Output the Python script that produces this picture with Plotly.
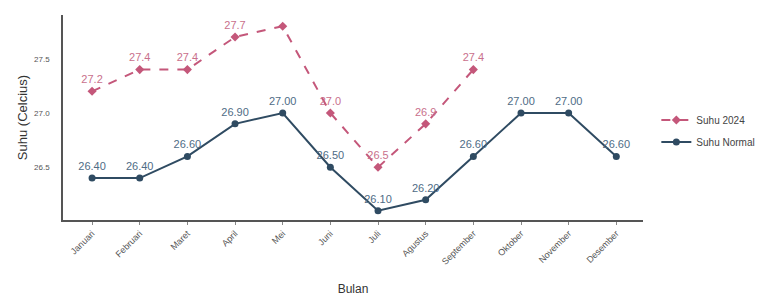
import plotly.graph_objects as go

bulan = ["Januari", "Februari", "Maret", "April", "Mei", "Juni", "Juli",
         "Agustus", "September", "Oktober", "November", "Desember"]
suhu_2024 = [27.2, 27.4, 27.4, 27.7, 27.8, 27.0, 26.5, 26.9, 27.4, None, None, None]
label_2024 = ["27.2", "27.4", "27.4", "27.7", "", "27.0", "26.5", "26.9", "27.4", "", "", ""]
suhu_normal = [26.40, 26.40, 26.60, 26.90, 27.00, 26.50, 26.10, 26.20, 26.60, 27.00, 27.00, 26.60]
label_normal = ["26.40", "26.40", "26.60", "26.90", "27.00", "26.50", "26.10", "26.20",
                "26.60", "27.00", "27.00", "26.60"]

c2024 = "#c4577a"
cnorm = "#2f4b62"
lab_font = "Liberation Sans Narrow, Liberation Sans, Arial"

fig = go.Figure()
fig.add_trace(go.Scatter(
    x=bulan, y=suhu_2024, name="Suhu 2024", mode="lines+markers+text",
    legendgroup="a",
    line=dict(color=c2024, width=2, dash="dash"),
    marker=dict(symbol="diamond", size=7, color=c2024),
    text=label_2024,
    textposition="top center",
    textfont=dict(size=11, color="#c9708c", family=lab_font),
    cliponaxis=True,
))
fig.add_trace(go.Scatter(
    x=bulan, y=suhu_normal, name="Suhu Normal", mode="lines+markers+text",
    legendgroup="b",
    line=dict(color=cnorm, width=2),
    marker=dict(symbol="circle", size=7, color=cnorm),
    text=label_normal,
    textposition="top center",
    textfont=dict(size=11, color="#4f6c86", family=lab_font),
    cliponaxis=True,
))

fig.update_layout(
    width=758, height=290,
    margin=dict(l=55, r=123, t=7, b=78, autoexpand=False),
    paper_bgcolor="white", plot_bgcolor="white",
    font=dict(family="Liberation Sans, Arial", color="#444"),
    showlegend=True,
    legend=dict(x=1.023, y=0.434, xanchor="left", yanchor="middle",
                font=dict(size=10, color="#444"), bgcolor="rgba(0,0,0,0)",
                tracegroupgap=3),
    xaxis=dict(
        title=dict(text="Bulan", font=dict(size=12, color="#333"), standoff=19),
        range=[-0.61, 11.56], tickangle=-45, tickfont=dict(size=9, color="#555"),
        showline=True, linecolor="#555", linewidth=1.5, showgrid=False, zeroline=False,
        ticks="outside", ticklen=3, tickcolor="#888", automargin=False,
    ),
    yaxis=dict(
        title=dict(text="Suhu (Celcius)", font=dict(size=13, color="#333"), standoff=4),
        range=[26.014, 27.903], tickvals=[26.5, 27.0, 27.5], ticktext=["26.5", "27.0", "27.5"],
        tickfont=dict(size=8, color="#555"),
        showline=True, linecolor="#555", linewidth=1.5, showgrid=False, zeroline=False,
        ticks="", ticklabelstandoff=10, automargin=False,
    ),
)

fig.write_html("out.html")
